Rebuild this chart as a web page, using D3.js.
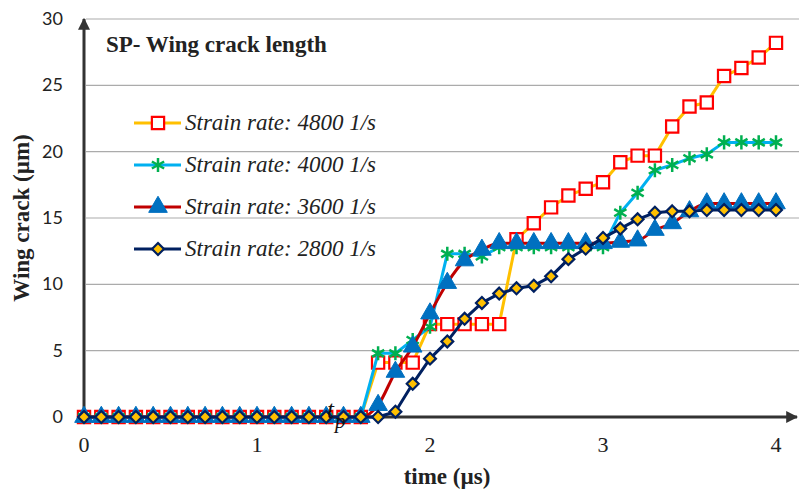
<!DOCTYPE html>
<html>
<head>
<meta charset="utf-8">
<script src="https://cdn.jsdelivr.net/npm/d3@7"></script>
<style>
  body { margin: 0; background: #fff; }
  svg { display: block; }
</style>
</head>
<body>
<svg id="chart" width="799" height="492"></svg>
<script>
// time steps (µs)
const times = d3.range(0, 41).map(i => i / 10);
const zeros17 = d3.range(17).map(() => 0);

// Wing crack length (µm) per strain rate
const rate4800 = zeros17.concat([4.1, 4.1, 4.1, 7.0, 7.0, 7.0, 7.0, 7.0, 13.4, 14.6, 15.8, 16.7, 17.2, 17.7,
  19.2, 19.7, 19.7, 21.9, 23.4, 23.7, 25.7, 26.3, 27.1, 28.2]);
const rate4000 = zeros17.concat([4.8, 4.8, 5.8, 6.8, 12.3, 12.3, 12.1, 12.8, 12.8, 12.8, 12.8, 12.8, 12.8, 12.8,
  15.4, 16.9, 18.6, 19.0, 19.5, 19.8, 20.7, 20.7, 20.7, 20.7]);
const rate3600 = zeros17.concat([0.9, 3.4, 5.3, 7.8, 10.1, 11.8, 12.6, 13.1, 13.1, 13.1, 13.1, 13.1, 13.1, 13.1,
  13.2, 13.3, 14.1, 14.6, 15.5, 16.1, 16.1, 16.1, 16.1, 16.1]);
const rate2800 = zeros17.concat([0, 0.4, 2.5, 4.4, 5.7, 7.4, 8.6, 9.3, 9.7, 9.9, 10.6, 11.9, 12.7, 13.5,
  14.2, 14.9, 15.4, 15.5, 15.5, 15.6, 15.6, 15.6, 15.6, 15.6]);

const seriesNames = ["Strain rate: 4800 1/s", "Strain rate: 4000 1/s", "Strain rate: 3600 1/s", "Strain rate: 2800 1/s"];
const xTicks = [0, 1, 2, 3, 4];
const yTicks = [0, 5, 10, 15, 20, 25, 30];

const series = [
  { name: seriesNames[0], values: rate4800, line: "#FFC000", marker: "square" },
  { name: seriesNames[1], values: rate4000, line: "#00B0F0", marker: "star" },
  { name: seriesNames[2], values: rate3600, line: "#C00000", marker: "triangle" },
  { name: seriesNames[3], values: rate2800, line: "#002060", marker: "diamond" }
];

const svg = d3.select("#chart");
const serif = "'Liberation Serif', 'Times New Roman', serif";

const x = d3.scaleLinear().domain([0, 4]).range([84, 776]);
const y = d3.scaleLinear().domain([0, 30]).range([417, 19]);

// grid
svg.append("g")
  .selectAll("line")
  .data(yTicks.slice(1))
  .enter()
  .append("line")
  .attr("x1", 86).attr("x2", 799)
  .attr("y1", d => y(d)).attr("y2", d => y(d))
  .attr("stroke", "#ABABAB").attr("stroke-width", 1.2);

// y tick labels
svg.append("g")
  .selectAll("text")
  .data(yTicks)
  .enter()
  .append("text")
  .attr("x", 63).attr("y", d => y(d) + 6)
  .attr("text-anchor", "end")
  .style("font-family", "Lato, 'Open Sans', sans-serif")
  .style("font-size", "18px")
  .style("fill", "#222")
  .text(d => d);

// x tick labels
svg.append("g")
  .selectAll("text")
  .data(xTicks)
  .enter()
  .append("text")
  .attr("x", d => x(d)).attr("y", 452)
  .attr("text-anchor", "middle")
  .style("font-family", serif)
  .style("font-size", "22px")
  .style("fill", "#222")
  .text(d => d);

// axes with arrows
const defs = svg.append("defs");
defs.append("marker")
  .attr("id", "arrow")
  .attr("viewBox", "0 0 10 10")
  .attr("refX", 9).attr("refY", 5)
  .attr("markerWidth", 4).attr("markerHeight", 4)
  .attr("orient", "auto")
  .append("path")
  .attr("d", "M0,0L10,5L0,10Z")
  .attr("fill", "#333");

svg.append("line")
  .attr("x1", x(0)).attr("x2", 797)
  .attr("y1", y(0)).attr("y2", y(0))
  .attr("stroke", "#333").attr("stroke-width", 3)
  .attr("marker-end", "url(#arrow)");
svg.append("line")
  .attr("x1", x(0)).attr("x2", x(0))
  .attr("y1", y(0) + 1.5).attr("y2", 19)
  .attr("stroke", "#333").attr("stroke-width", 3)
  .attr("marker-end", "url(#arrow)");

// lines + markers
const lineGen = d3.line().x((d, i) => x(times[i])).y(d => y(d));

const symbolFor = {
  square: d3.symbol().type(d3.symbolSquare).size(150),
  star: d3.symbol().type(d3.symbolAsterisk).size(140),
  triangle: d3.symbol().type(d3.symbolTriangle).size(150),
  diamond: d3.symbol().type(d3.symbolDiamond2).size(90)
};

const drawMarker = (g, s) => {
  const p = g.append("path").attr("d", symbolFor[s.marker]());
  if (s.marker === "square") p.attr("fill", "#fff").attr("stroke", "#FF0000").attr("stroke-width", 2.2);
  if (s.marker === "star") p.attr("fill", "none").attr("stroke", "#00B050").attr("stroke-width", 2.5);
  if (s.marker === "triangle") p.attr("fill", "#0070C0").attr("stroke", "#0070C0").attr("stroke-width", 1);
  if (s.marker === "diamond") p.attr("fill", "#FFC000").attr("stroke", "#002060").attr("stroke-width", 2.2);
  return p;
};

series.forEach(s => {
  const g = svg.append("g").attr("class", "series");
  g.append("path")
    .datum(s.values)
    .attr("d", s.marker === "triangle" ? lineGen.curve(d3.curveMonotoneX)(s.values) : lineGen.curve(d3.curveLinear)(s.values))
    .attr("fill", "none")
    .attr("stroke", s.line)
    .attr("stroke-width", 3)
    .attr("stroke-linejoin", "round");
  g.selectAll(".pt")
    .data(s.values)
    .enter()
    .append("g")
    .attr("class", "pt")
    .attr("transform", (d, i) => `translate(${x(times[i])},${y(d)})`)
    .each(function () { drawMarker(d3.select(this), s); });
});

// legend
const legend = svg.append("g");
series.forEach((s, i) => {
  const ly = 123 + i * 42;
  legend.append("line")
    .attr("x1", 134).attr("x2", 181)
    .attr("y1", ly).attr("y2", ly)
    .attr("stroke", s.line).attr("stroke-width", 3);
  drawMarker(legend.append("g").attr("transform", `translate(158,${ly})`), s);
  legend.append("text")
    .attr("x", 185).attr("y", ly + 7)
    .style("font-family", serif)
    .style("font-style", "italic")
    .style("font-size", "23px")
    .style("fill", "#222")
    .text(s.name);
});

// title
svg.append("text")
  .attr("x", 106).attr("y", 52)
  .style("font-family", serif)
  .style("font-weight", "bold")
  .style("font-size", "23px")
  .style("fill", "#222")
  .text("SP- Wing crack length");

// axis titles
svg.append("text")
  .attr("x", 447).attr("y", 484)
  .attr("text-anchor", "middle")
  .style("font-family", serif)
  .style("font-weight", "bold")
  .style("font-size", "23px")
  .style("fill", "#222")
  .text("time (µs)");

svg.append("text")
  .attr("transform", "translate(29,218) rotate(-90)")
  .attr("text-anchor", "middle")
  .style("font-family", serif)
  .style("font-weight", "bold")
  .style("font-size", "23px")
  .style("fill", "#222")
  .text("Wing crack (µm)");

// t_p annotation
svg.append("text")
  .attr("x", 327).attr("y", 418)
  .style("font-family", serif)
  .style("font-style", "italic")
  .style("font-size", "25px")
  .style("fill", "#111")
  .text("t");
svg.append("text")
  .attr("x", 335).attr("y", 428)
  .style("font-family", serif)
  .style("font-style", "italic")
  .style("font-size", "21px")
  .style("fill", "#111")
  .text("p");
</script>
</body>
</html>
